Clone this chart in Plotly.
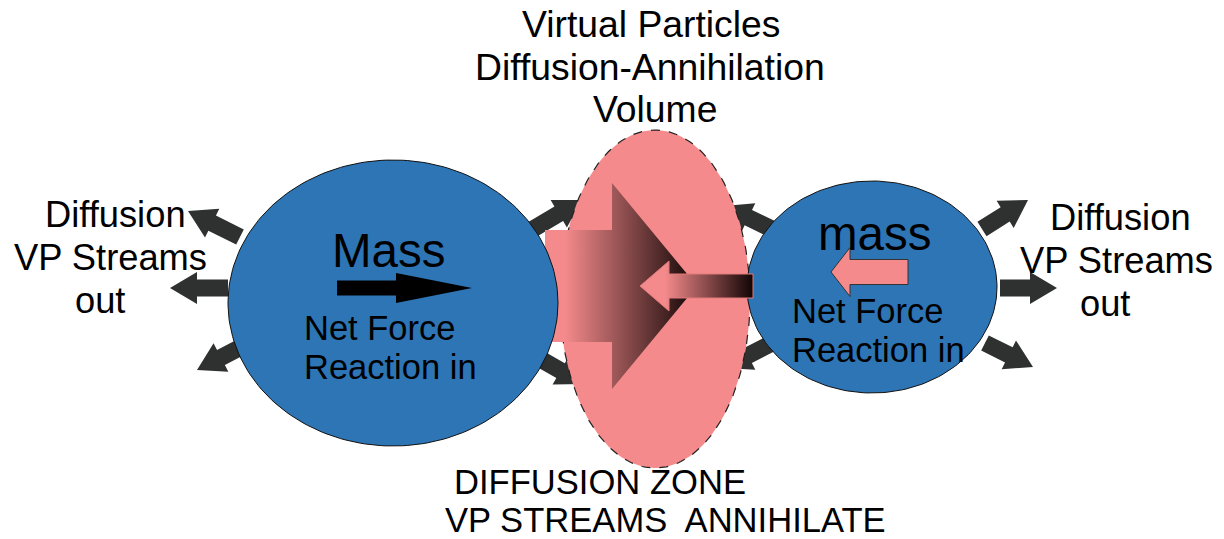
import numpy as np
import plotly.graph_objects as go

# ---------------- content ----------------
title_lines = ["Virtual Particles", "Diffusion-Annihilation", "Volume"]
left_lines = ["Diffusion", "VP Streams", "out"]
right_lines = ["Diffusion", "VP Streams", "out"]
big_mass_label = "Mass"
small_mass_label = "mass"
force_lines = ["Net Force", "Reaction in"]
zone_lines = ["DIFFUSION ZONE", "VP STREAMS  ANNIHILATE"]

# ellipses: (cx, cy, rx, ry)
big_body = (393, 303, 165, 143)
small_body = (872, 287, 125, 106)
zone_body = (655, 299, 95, 169)

# dark diffusion arrows: (tail_x, tail_y, tip_x, tip_y)
stream_arrows = [
    (240, 237, 188, 211), (228, 288, 170, 288), (245, 345, 197, 370),
    (982, 229, 1028, 200), (1000, 288, 1057, 288), (985, 343, 1033, 367),
    (528, 232, 582, 200), (528, 352, 584, 384),
    (778, 232, 724, 206), (778, 340, 724, 368),
]

BLUE = "#2E75B6"
PINK = "#F48A8B"
DARK = "#2E3130"
FONT = "Liberation Sans"


def arrow_poly(x0, y0, x1, y1, w, hw, hl):
    d = np.array([x1 - x0, y1 - y0], float)
    L = np.hypot(*d)
    u = d / L
    p = np.array([-u[1], u[0]])
    t = np.array([x0, y0], float)
    tip = np.array([x1, y1], float)
    b = tip - u * hl
    pts = [t + p * w, b + p * w, b + p * hw, tip, b - p * hw, b - p * w, t - p * w, t + p * w]
    xs = [q[0] for q in pts]
    ys = [q[1] for q in pts]
    return xs, ys


def ellipse_poly(cx, cy, rx, ry, n=200):
    th = np.linspace(0, 2 * np.pi, n)
    return list(cx + rx * np.cos(th)), list(cy + ry * np.sin(th))


fig = go.Figure()

# stream arrows (behind everything)
for (x0, y0, x1, y1) in stream_arrows:
    xs, ys = arrow_poly(x0, y0, x1, y1, 8.5, 16, 27)
    fig.add_trace(go.Scatter(x=xs, y=ys, mode="lines", fill="toself", fillcolor=DARK,
                             line=dict(width=0, color=DARK), hoverinfo="skip"))

# diffusion zone ellipse
xs, ys = ellipse_poly(*zone_body)
fig.add_trace(go.Scatter(x=xs, y=ys, mode="lines", fill="toself", fillcolor=PINK,
                         line=dict(width=1.2, color="#222222", dash="dash"), hoverinfo="skip"))

# big gradient arrow
xs, ys = arrow_poly(545, 286, 697, 286, 56, 103, 85)
fig.add_trace(go.Scatter(x=xs, y=ys, mode="lines", fill="toself",
                         fillgradient=dict(type="horizontal", start=565, stop=697,
                                           colorscale=[[0, PINK], [1, "#100404"]]),
                         line=dict(width=0, color=PINK), hoverinfo="skip"))

# bodies
for body in (big_body, small_body):
    xs, ys = ellipse_poly(*body)
    fig.add_trace(go.Scatter(x=xs, y=ys, mode="lines", fill="toself", fillcolor=BLUE,
                             line=dict(width=1, color="#111111"), hoverinfo="skip"))

# small gradient arrow (reaction)
xs, ys = arrow_poly(753, 286, 640, 286, 12, 25, 29)
fig.add_trace(go.Scatter(x=xs, y=ys, mode="lines", fill="toself",
                         fillgradient=dict(type="horizontal", start=665, stop=753,
                                           colorscale=[[0, PINK], [1, "#120404"]]),
                         line=dict(width=1, color="#E07A7A"), hoverinfo="skip"))

# black arrow in big mass
xs, ys = arrow_poly(337, 288, 472, 288, 7.5, 15, 76)
fig.add_trace(go.Scatter(x=xs, y=ys, mode="lines", fill="toself", fillcolor="black",
                         line=dict(width=0, color="black"), hoverinfo="skip"))

# pink arrow in small mass
xs, ys = arrow_poly(908, 272, 831, 272, 12.5, 24.5, 19)
fig.add_trace(go.Scatter(x=xs, y=ys, mode="lines", fill="toself", fillcolor=PINK,
                         line=dict(width=1, color="#333333"), hoverinfo="skip"))

ann = []


def txt(s, x, y, size, xanchor="center"):
    ann.append(dict(text=s, x=x, y=y, xref="x", yref="y", showarrow=False,
                    xanchor=xanchor, yanchor="middle",
                    font=dict(family=FONT, size=size, color="black")))


for s, x, y in zip(title_lines, [651, 650, 655], [24, 67, 109]):
    txt(s, x, y, 37.3)
for s, x, y in zip(left_lines, [115, 110, 100], [214, 257, 300]):
    txt(s, x, y, 36.3)
for s, x, y in zip(right_lines, [1120, 1116, 1105], [217, 260, 303]):
    txt(s, x, y, 36.3)
txt(big_mass_label, 389, 250, 47.5)
txt(small_mass_label, 875, 233, 47.5)
for s, y in zip(force_lines, [328, 367]):
    txt(s, 302, y, 34.5, "left")
for s, y in zip(force_lines, [311, 350]):
    txt(s, 790, y, 34.5, "left")
for s, x, y in zip(zone_lines, [600, 665], [482, 520]):
    txt(s, x, y, 34.6)

fig.update_layout(
    width=1224, height=539, margin=dict(l=0, r=0, t=0, b=0),
    paper_bgcolor="white", plot_bgcolor="white", showlegend=False,
    xaxis=dict(range=[0, 1224], visible=False, fixedrange=True),
    yaxis=dict(range=[539, 0], visible=False, fixedrange=True),
    annotations=ann,
)

fig.write_html("out.html", config={"displayModeBar": False},
               post_script="document.body.style.margin='0';")
